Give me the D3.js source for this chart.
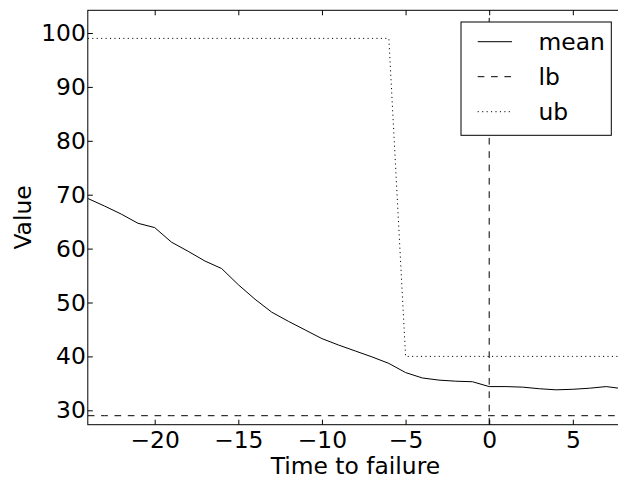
<!DOCTYPE html>
<html>
<head>
<meta charset="utf-8">
<script src="https://cdn.jsdelivr.net/npm/d3@7"></script>
<style>
    html, body { margin: 0; padding: 0; background: #fff; }
    svg { display: block; font-family: "DejaVu Sans", sans-serif; }
</style>
</head>
<body>
<div id="chart"></div>
<script>
// time steps relative to failure
var timeSteps = [-24, -23, -22, -21, -20, -19, -18, -17, -16, -15, -14, -13, -12,
    -11, -10, -9, -8, -7, -6, -5, -4, -3, -2, -1, 0, 1, 2, 3, 4, 5, 6, 7, 8];

var meanValues = [69.3, 67.9, 66.4, 64.7, 63.9, 61.2, 59.5, 57.7, 56.3, 53.3, 50.6, 48.2, 46.5,
    44.9, 43.3, 42.1, 41.0, 39.9, 38.7, 37.0, 36.0, 35.6, 35.4, 35.3, 34.4, 34.4, 34.3, 34.0,
    33.8, 33.9, 34.1, 34.4, 34.0];

var lbValues = [29, 29, 29, 29, 29, 29, 29, 29, 29, 29, 29, 29, 29, 29, 29, 29, 29, 29, 29,
    29, 29, 29, 29, 29, 29, 29, 29, 29, 29, 29, 29, 29, 29];

var ubValues = [99, 99, 99, 99, 99, 99, 99, 99, 99, 99, 99, 99, 99, 99, 99, 99, 99, 99, 99,
    40, 40, 40, 40, 40, 40, 40, 40, 40, 40, 40, 40, 40, 40];

var failureTime = 0;

var xTicks = [-20, -15, -10, -5, 0, 5];
var yTicks = [30, 40, 50, 60, 70, 80, 90, 100];

var legendNames = ["mean", "lb", "ub"];

(function () {
    var width = 618,
        height = 483;
    var fontSize = "23.4px";

    var left = 87.8,
        right = 623,
        top = 10.3,
        bottom = 424.7;

    var x = d3.scaleLinear().domain([-24, 8]).range([left, right]);
    var y = d3.scaleLinear().domain([27.33, 104.21]).range([bottom, top]);

    var dashes = {
        mean: null,
        lb: "6.67,6.67",
        ub: "1.11,3.33"
    };

    var svg = d3.select("#chart")
        .append("svg")
        .attr("width", width)
        .attr("height", height);

    // axes, ticks pointing inward
    var xAxis = svg.append("g")
        .attr("transform", "translate(0," + bottom + ")")
        .call(d3.axisBottom(x).tickValues(xTicks).tickSize(-5).tickPadding(7));
    var xAxisTop = svg.append("g")
        .attr("transform", "translate(0," + top + ")")
        .call(d3.axisTop(x).tickValues(xTicks).tickSize(-5).tickFormat(""));
    var yAxis = svg.append("g")
        .attr("transform", "translate(" + left + ",0)")
        .call(d3.axisLeft(y).tickValues(yTicks).tickSize(-5).tickPadding(2));
    var yAxisRight = svg.append("g")
        .attr("transform", "translate(" + right + ",0)")
        .call(d3.axisRight(y).tickValues(yTicks).tickSize(-5).tickFormat(""));

    [xAxis, xAxisTop, yAxis, yAxisRight].forEach(function (a) {
        a.select(".domain").remove();
        a.selectAll("line").attr("stroke", "#000").attr("stroke-width", 1);
        a.selectAll("text")
            .attr("fill", "#000")
            .style("font-size", fontSize)
            .style("font-family", "DejaVu Sans");
    });

    // frame
    svg.append("rect")
        .attr("x", left)
        .attr("y", top)
        .attr("width", right - left)
        .attr("height", bottom - top)
        .attr("fill", "none")
        .attr("stroke", "#000")
        .attr("stroke-width", 1);

    svg.append("clipPath").attr("id", "plot-clip")
        .append("rect")
        .attr("x", left)
        .attr("y", top)
        .attr("width", right - left)
        .attr("height", bottom - top);

    var plot = svg.append("g").attr("clip-path", "url(#plot-clip)");

    var line = d3.line()
        .x(function (d) { return x(d[0]); })
        .y(function (d) { return y(d[1]); });

    function pairs(vals) {
        return timeSteps.map(function (t, i) { return [t, vals[i]]; });
    }

    var series = [
        { name: "mean", values: meanValues },
        { name: "lb", values: lbValues },
        { name: "ub", values: ubValues }
    ];

    series.forEach(function (s) {
        plot.append("path")
            .datum(pairs(s.values))
            .attr("d", line)
            .attr("fill", "none")
            .attr("stroke", "#000")
            .attr("stroke-width", 1)
            .attr("stroke-dasharray", dashes[s.name]);
    });

    // failure marker
    plot.append("line")
        .attr("x1", x(failureTime))
        .attr("x2", x(failureTime))
        .attr("y1", y.range()[0])
        .attr("y2", y.range()[1])
        .attr("stroke", "#000")
        .attr("stroke-width", 1)
        .attr("stroke-dasharray", dashes.lb);

    // legend
    var lg = svg.append("g");
    lg.append("rect")
        .attr("x", 461)
        .attr("y", 22)
        .attr("width", 150.3)
        .attr("height", 113.3)
        .attr("fill", "#fff")
        .attr("stroke", "#000")
        .attr("stroke-width", 1);

    legendNames.forEach(function (name, i) {
        var ry = 41.7 + i * 35;
        lg.append("line")
            .attr("x1", 477.7)
            .attr("x2", 512)
            .attr("y1", ry)
            .attr("y2", ry)
            .attr("stroke", "#000")
            .attr("stroke-width", 1)
            .attr("stroke-dasharray", dashes[name]);
        lg.append("text")
            .attr("x", 538.5)
            .attr("y", ry + 8.3)
            .style("font-size", fontSize)
            .text(name);
    });

    // axis labels
    svg.append("text")
        .attr("x", (left + right) / 2)
        .attr("y", 474.3)
        .attr("text-anchor", "middle")
        .style("font-size", fontSize)
        .text("Time to failure");

    svg.append("text")
        .attr("transform", "translate(31," + ((top + bottom) / 2) + ") rotate(-90)")
        .attr("text-anchor", "middle")
        .style("font-size", fontSize)
        .text("Value");
}());
</script>
</body>
</html>
